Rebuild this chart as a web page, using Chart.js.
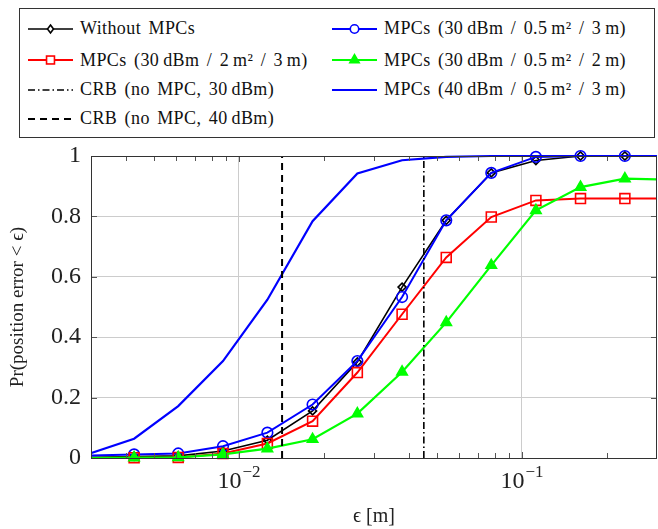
<!DOCTYPE html>
<html lang="en">
<head>
<meta charset="UTF-8">
<title>Pr(position error &lt; ϵ)</title>
<script src="https://cdn.jsdelivr.net/npm/chart.js"></script>
<style>
  html, body { margin: 0; padding: 0; background: #fff; }
  #wrap { position: relative; width: 658px; height: 529px; }
  #legend {
    position: absolute; left: 19px; top: 8px; width: 636px; height: 130px;
    box-sizing: border-box; border: 1px solid #333; background: #fff;
    padding: 3px 0 0 8px;
    display: grid; grid-template-columns: 304px auto; grid-template-rows: 33px 30px 29px 29px;
    font-family: 'Liberation Serif', 'DejaVu Serif', serif; font-size: 18px; color: #111;
    letter-spacing: 0.4px; word-spacing: 2.5px;
  }
  .item { display: flex; align-items: center; white-space: nowrap; }
  .item svg { margin-right: 7px; flex: none; }
</style>
</head>
<body>
<div id="wrap">
  <canvas id="chart" width="658" height="529"></canvas>
  <div id="legend"></div>
</div>
<script>
// error threshold epsilon [m] (first and last points lie just outside the plotted range)
const epsilon = [0.00296, 0.00426, 0.0061, 0.00878, 0.0126, 0.0182, 0.0262, 0.0377, 0.054, 0.0779, 0.112, 0.161, 0.231, 0.333];

const withoutMPCs = [0.002, 0.005, 0.007, 0.023, 0.059, 0.156, 0.318, 0.566, 0.787, 0.944, 0.985, 1, 1, 1];
const mpc30_05_3  = [0.008, 0.012, 0.015, 0.039, 0.084, 0.177, 0.321, 0.533, 0.787, 0.944, 0.997, 1, 1, 1];
const mpc30_2_3   = [0, 0.001, 0.002, 0.015, 0.048, 0.122, 0.283, 0.476, 0.664, 0.798, 0.853, 0.859, 0.859, 0.859];
const mpc30_05_2  = [0, 0.001, 0.002, 0.012, 0.031, 0.062, 0.147, 0.285, 0.449, 0.638, 0.82, 0.897, 0.925, 0.922];
const mpc40_05_3  = [0.0146, 0.064, 0.172, 0.321, 0.524, 0.784, 0.942, 0.986, 0.997, 1, 1, 1, 1, 1];

// Cramer-Rao bounds (vertical lines)
const crb30 = 0.0450;
const crb40 = 0.0142;

const xMajorTicks = [0.01, 0.1];

const FONT = "'Liberation Serif', 'DejaVu Serif', serif";

function pts(values) {
  return values.map((v, i) => ({ x: epsilon[i], y: v }));
}
function vline(x) {
  return [{ x: x, y: 0 }, { x: x, y: 1 }];
}
function markerRadius(r) {
  return ctx => (ctx.dataIndex === 0 || ctx.dataIndex === epsilon.length - 1) ? 0 : r;
}

const datasets = [
  { label: 'Without MPCs', data: pts(withoutMPCs), borderColor: '#000', borderWidth: 1.6,
    pointStyle: 'rectRot', markerSize: 4, pointBackgroundColor: 'rgba(0,0,0,0)', pointBorderColor: '#000' },
  { label: 'MPCs (30\u2009dBm / 0.5\u2009m² / 3\u2009m)', data: pts(mpc30_05_3), borderColor: '#0000ff', borderWidth: 2,
    pointStyle: 'circle', markerSize: 5.3, pointBackgroundColor: 'rgba(0,0,0,0)', pointBorderColor: '#0000ff' },
  { label: 'MPCs (30\u2009dBm / 2\u2009m² / 3\u2009m)', data: pts(mpc30_2_3), borderColor: '#ff0000', borderWidth: 2,
    pointStyle: 'rect', markerSize: 7, pointBackgroundColor: 'rgba(0,0,0,0)', pointBorderColor: '#ff0000' },
  { label: 'MPCs (30\u2009dBm / 0.5\u2009m² / 2\u2009m)', data: pts(mpc30_05_2), borderColor: '#00ff00', borderWidth: 2.2,
    pointStyle: 'triangle', markerSize: 6, pointBackgroundColor: '#00ff00', pointBorderColor: '#00ff00' },
  { label: 'CRB (no MPC, 30\u2009dBm)', data: vline(crb30), borderColor: '#000', borderWidth: 1.6,
    borderDash: [7, 3, 1.5, 3], markerSize: 0 },
  { label: 'MPCs (40\u2009dBm / 0.5\u2009m² / 3\u2009m)', data: pts(mpc40_05_3), borderColor: '#0000ff', borderWidth: 2.2,
    markerSize: 0 },
  { label: 'CRB (no MPC, 40\u2009dBm)', data: vline(crb40), borderColor: '#000', borderWidth: 2,
    borderDash: [7, 5], markerSize: 0 }
];

datasets.forEach((ds, i) => {
  ds.order = -i;            // later series on top, like the original plot
  ds.tension = 0;
  ds.fill = false;
  ds.pointRadius = markerRadius(ds.markerSize);
  ds.pointBorderWidth = 1.6;
  ds.clip = { left: 0, right: 0, top: 8, bottom: 8 };
});

// frame, inward ticks and 10^k labels
const axisDecor = {
  id: 'axisDecor',
  afterDraw(chart) {
    const { ctx, chartArea: a, scales: { x, y } } = chart;
    ctx.save();
    ctx.strokeStyle = '#555';
    ctx.lineWidth = 1;
    for (let e = -3; e <= -1; e++) {
      for (let m = 1; m <= 9; m++) {
        const v = m * Math.pow(10, e);
        if (v < x.min || v > x.max) continue;
        const px = Math.round(x.getPixelForValue(v)) + 0.5;
        const len = m === 1 ? 6 : 5;
        ctx.beginPath();
        ctx.moveTo(px, a.bottom); ctx.lineTo(px, a.bottom - len);
        ctx.moveTo(px, a.top); ctx.lineTo(px, a.top + len);
        ctx.stroke();
      }
    }
    y.ticks.forEach(t => {
      const py = Math.round(y.getPixelForValue(t.value)) + 0.5;
      ctx.beginPath();
      ctx.moveTo(a.left, py); ctx.lineTo(a.left + 6, py);
      ctx.moveTo(a.right, py); ctx.lineTo(a.right - 6, py);
      ctx.stroke();
    });
    ctx.strokeStyle = '#333';
    ctx.strokeRect(a.left + 0.5, a.top + 0.5, a.right - a.left - 1, a.bottom - a.top);

    ctx.fillStyle = '#222';
    ctx.textBaseline = 'alphabetic';
    ctx.textAlign = 'left';
    x.ticks.forEach(t => {
      const exp = Math.round(Math.log10(t.value));
      const px = x.getPixelForValue(t.value);
      const base = '10', sup = '\u2212' + Math.abs(exp);
      ctx.font = '24px ' + FONT;
      const w1 = ctx.measureText(base).width;
      ctx.font = '17px ' + FONT;
      const w2 = ctx.measureText(sup).width;
      const x0 = px - (w1 + w2 + 1) / 2;
      ctx.font = '24px ' + FONT;
      ctx.fillText(base, x0, a.bottom + 30);
      ctx.font = '17px ' + FONT;
      ctx.fillText(sup, x0 + w1 + 1, a.bottom + 19);
    });
    ctx.restore();
  }
};

const chart = new Chart(document.getElementById('chart').getContext('2d'), {
  type: 'line',
  data: { datasets: datasets },
  options: {
    responsive: false,
    animation: false,
    layout: { padding: { top: 156, right: 1, left: 0, bottom: 0 } },
    plugins: { legend: { display: false }, tooltip: { enabled: false } },
    scales: {
      x: {
        type: 'logarithmic', min: 0.003, max: 0.3,
        afterBuildTicks: s => { s.ticks = xMajorTicks.map(v => ({ value: v, major: true })); },
        afterFit: s => { s.height = 71; },
        grid: { color: '#cccccc', drawTicks: false },
        border: { display: false },
        ticks: { display: false },
        title: { display: true, text: 'ϵ [m]', color: '#222', font: { family: FONT, size: 20, lineHeight: 1.1 }, padding: { top: 0, bottom: 1 } }
      },
      y: {
        min: 0, max: 1,
        afterFit: s => { s.width = 91; },
        grid: { color: '#cccccc', drawTicks: false },
        border: { display: false },
        ticks: {
          stepSize: 0.2, padding: 10, color: '#222', font: { family: FONT, size: 24 },
          callback: v => String(Number(v.toFixed(1)))
        },
        title: { display: true, text: 'Pr(position error < ϵ)', color: '#222', font: { family: FONT, size: 19, lineHeight: 1.2 }, padding: { top: 7, bottom: 0 } }
      }
    }
  },
  plugins: [axisDecor]
});

// HTML legend in two columns, built from the datasets
function swatch(ds) {
  const cx = 22.5, cy = 8, r = ds.markerSize;
  const dash = ds.borderDash ? ` stroke-dasharray="${ds.borderDash.join(' ')}"` : '';
  let s = `<svg width="45" height="16"><line x1="0" y1="${cy}" x2="45" y2="${cy}" stroke="${ds.borderColor}" stroke-width="${ds.borderWidth}"${dash}/>`;
  const st = `stroke="${ds.borderColor}" stroke-width="1.6"`;
  const fill = ds.pointStyle === 'triangle' ? ds.pointBackgroundColor : '#fff';
  if (r && ds.pointStyle === 'circle') {
    s += `<circle cx="${cx}" cy="${cy}" r="${r * 0.8}" fill="${fill}" ${st}/>`;
  } else if (r && ds.pointStyle === 'rect') {
    const h = r * Math.SQRT1_2 * 0.8;
    s += `<rect x="${cx - h}" y="${cy - h}" width="${2 * h}" height="${2 * h}" fill="${fill}" ${st}/>`;
  } else if (r && ds.pointStyle === 'rectRot') {
    s += `<polygon points="${cx},${cy - r} ${cx + r * 0.75},${cy} ${cx},${cy + r} ${cx - r * 0.75},${cy}" fill="${fill}" ${st}/>`;
  } else if (r && ds.pointStyle === 'triangle') {
    const k = r * 0.9;
    s += `<polygon points="${cx},${cy - k} ${cx + k * 0.866},${cy + k / 2} ${cx - k * 0.866},${cy + k / 2}" fill="${fill}" ${st}/>`;
  }
  return s + '</svg>';
}

const legendEl = document.getElementById('legend');
chart.data.datasets.forEach(ds => {
  const item = document.createElement('div');
  item.className = 'item';
  item.innerHTML = swatch(ds);
  const span = document.createElement('span');
  span.textContent = ds.label;
  item.appendChild(span);
  legendEl.appendChild(item);
});
</script>
</body>
</html>
